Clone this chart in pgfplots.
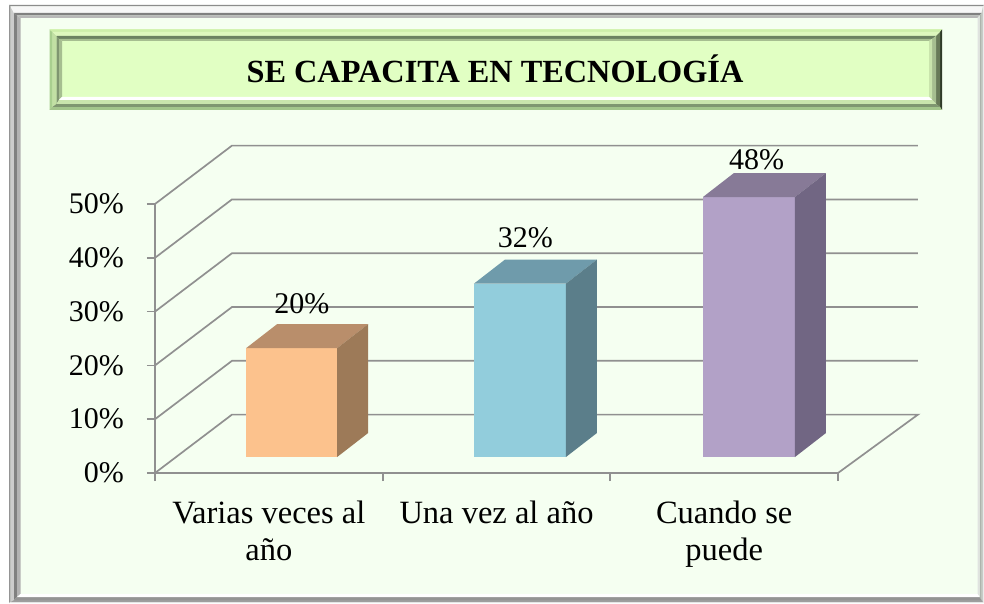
\documentclass[border=0pt]{standalone}
\usepackage{pgfplots}
\pgfplotsset{compat=1.18}
\usepackage{fontspec}
\setmainfont{Liberation Serif}
\definecolor{bgc}{HTML}{F5FFF1}
\definecolor{titlec}{HTML}{E1FFC3}
\definecolor{gridc}{HTML}{909090}
\definecolor{HTMLa}{HTML}{FCC28D}
\definecolor{HTMLb}{HTML}{B98E6B}
\definecolor{HTMLc}{HTML}{9D7A58}
\definecolor{HTMLd}{HTML}{92CDDC}
\definecolor{HTMLe}{HTML}{6F9BAB}
\definecolor{HTMLf}{HTML}{5B7E8A}
\definecolor{HTMLg}{HTML}{B2A1C7}
\definecolor{HTMLh}{HTML}{877A97}
\definecolor{HTMLi}{HTML}{716683}
\definecolor{tbA}{HTML}{A9CF8F}
\definecolor{tbB}{HTML}{CDEEAA}
\definecolor{tbC}{HTML}{2F3A28}
\definecolor{tbD}{HTML}{A3C58B}
\definecolor{tbE}{HTML}{C2E0A4}
\definecolor{tbF}{HTML}{DDF7BD}
\definecolor{tbG}{HTML}{687A58}
\definecolor{tbH}{HTML}{7F9670}
\definecolor{tbI}{HTML}{6B8160}
\definecolor{tbJ}{HTML}{A6BE90}
\definecolor{tbK}{HTML}{C9E4AC}
\newcommand\ring[9]{% outer x0 y0 x1 y1, inner x0 y0 x1 y1, colours L,T,R,B
  \def\ox{#1}\def\oy{#2}\def\oX{#3}\def\oY{#4}\def\ix{#5}\def\iy{#6}\def\iX{#7}\def\iY{#8}\ringcolors#9\relax}
\def\ringcolors#1,#2,#3,#4\relax{%
  \fill[#1] (\ox,\oy)--(\ix,\iy)--(\ix,\iY)--(\ox,\oY)--cycle;
  \fill[#2] (\ox,\oy)--(\oX,\oy)--(\iX,\iy)--(\ix,\iy)--cycle;
  \fill[#3] (\oX,\oy)--(\oX,\oY)--(\iX,\iY)--(\iX,\iy)--cycle;
  \fill[#4] (\ox,\oY)--(\oX,\oY)--(\iX,\iY)--(\ix,\iY)--cycle;}
\begin{document}
\begin{tikzpicture}
\begin{scope}[x=1pt,y=-1pt,yshift=603pt]
  \path[use as bounding box,fill=white] (0,0) rectangle (984,603);
  % outer frame
  \fill[bgc] (9,5) rectangle (984,603);
  \ring{9}{5}{984}{603}{10.5}{6.5}{983}{602}{{fill=black!42},{fill=black!45},{fill=green!3!black!6},{fill=green!3!black!6}}
  \ring{10.5}{6.5}{983}{602}{14}{13}{981.5}{600}{{fill=black!20},{fill=black!3},{fill=green!8!black!22},{fill=black!38}}
  \ring{14}{13}{981.5}{600}{17}{15.5}{979.5}{597}{{fill=black!50},{fill=black!50},{fill=green!8!black!32},{fill=black!42}}
  \ring{17}{15.5}{979.5}{597}{20.5}{18}{977.5}{594}{{fill=black!30},{fill=black!28},{fill=green!8!black!12},{fill=white}}
  % title box
  \fill[titlec] (49.5,29.5) rectangle (942,110);
  \ring{49.5}{29.5}{942}{110}{52.5}{32}{940}{107}{{fill=tbA},{fill=tbB},{fill=tbC},{fill=tbD}}
  \ring{52.5}{32}{940}{107}{56.5}{36}{936}{104}{{fill=tbE},{fill=tbF},{fill=tbG},{fill=tbH}}
  \ring{56.5}{36}{936}{104}{59}{39}{932}{100}{{fill=tbH},{fill=tbI},{fill=tbJ},{fill=tbK}}
  \ring{59}{39}{932}{100}{62}{41}{929}{97}{{fill=tbJ},{fill=tbJ},{fill=tbK},{fill=white}}
  \node[anchor=base,font=\bfseries\fontsize{32.3}{38}\selectfont,inner sep=0pt] at (495,82.5) {SE CAPACITA EN TECNOLOGÍA};
\end{scope}
\begin{axis}[
  at={(155pt,130pt)},anchor=south west,
  scale only axis,width=683pt,height=269pt,
  clip=false,
  xmin=-0.5,xmax=2.5,ymin=0,ymax=50,
  axis lines=left,
  axis line style={-,draw=gridc,line width=1.7pt},
  xtick={0,1,2},
  xticklabels={{Varias veces al\\año},{Una vez al año},{Cuando se\\puede}},
  minor xtick={-0.5,0.5,1.5,2.5},
  major x tick style={draw=none},
  minor x tick style={draw=gridc,line width=1.7pt},
  minor tick length=8pt,
  ytick={0,10,20,30,40,50},
  yticklabels={0\%,10\%,20\%,30\%,40\%,50\%},
  y tick style={draw=gridc,line width=1.7pt},
  major tick length=8pt,
  tick align=outside,
  xticklabel style={font=\fontsize{32.5}{37}\selectfont,align=center,anchor=north,yshift=-20pt,inner sep=0pt},
  yticklabel style={font=\fontsize{30}{37}\selectfont,anchor=east,xshift=-23pt,inner sep=0pt},
]
% back wall and floor grid
\addplot[gridc,line width=1.7pt] coordinates {(-0.5,0) (-0.162,10.85) (2.851,10.85) (2.5,0)};
\addplot[gridc,line width=1.7pt] coordinates {(-0.5,10) (-0.162,20.85) (2.851,20.85)};
\addplot[gridc,line width=1.7pt] coordinates {(-0.5,20) (-0.162,30.85) (2.851,30.85)};
\addplot[gridc,line width=1.7pt] coordinates {(-0.5,30) (-0.162,40.85) (2.851,40.85)};
\addplot[gridc,line width=1.7pt] coordinates {(-0.5,40) (-0.162,50.85) (2.851,50.85)};
\addplot[gridc,line width=1.7pt] coordinates {(-0.5,50) (-0.162,60.85) (2.851,60.85)};
% bar 1: 20%
\addplot[fill=HTMLa,draw=none] coordinates {(-0.1,2.97) (0.3,2.97) (0.3,23.2) (-0.1,23.2)} --cycle;
\addplot[fill=HTMLb,draw=none] coordinates {(-0.1,23.2) (0.3,23.2) (0.436,27.66) (0.036,27.66)} --cycle;
\addplot[fill=HTMLc,draw=none] coordinates {(0.3,2.97) (0.436,7.43) (0.436,27.66) (0.3,23.2)} --cycle;
% bar 2: 32%
\addplot[fill=HTMLd,draw=none] coordinates {(0.901,2.97) (1.305,2.97) (1.305,35.2) (0.901,35.2)} --cycle;
\addplot[fill=HTMLe,draw=none] coordinates {(0.901,35.2) (1.305,35.2) (1.441,39.66) (1.037,39.66)} --cycle;
\addplot[fill=HTMLf,draw=none] coordinates {(1.305,2.97) (1.441,7.43) (1.441,39.66) (1.305,35.2)} --cycle;
% bar 3: 48%
\addplot[fill=HTMLg,draw=none] coordinates {(1.907,2.97) (2.311,2.97) (2.311,51.3) (1.907,51.3)} --cycle;
\addplot[fill=HTMLh,draw=none] coordinates {(1.907,51.3) (2.311,51.3) (2.447,55.76) (2.043,55.76)} --cycle;
\addplot[fill=HTMLi,draw=none] coordinates {(2.311,2.97) (2.447,7.43) (2.447,55.76) (2.311,51.3)} --cycle;
\node[anchor=base,inner sep=0pt,font=\fontsize{30}{37}\selectfont] at (axis cs:0.145,29.74) {20\%};
\node[anchor=base,inner sep=0pt,font=\fontsize{30}{37}\selectfont] at (axis cs:1.127,41.9) {32\%};
\node[anchor=base,inner sep=0pt,font=\fontsize{30}{37}\selectfont] at (axis cs:2.143,56.5) {48\%};
\end{axis}
\end{tikzpicture}
\end{document}
